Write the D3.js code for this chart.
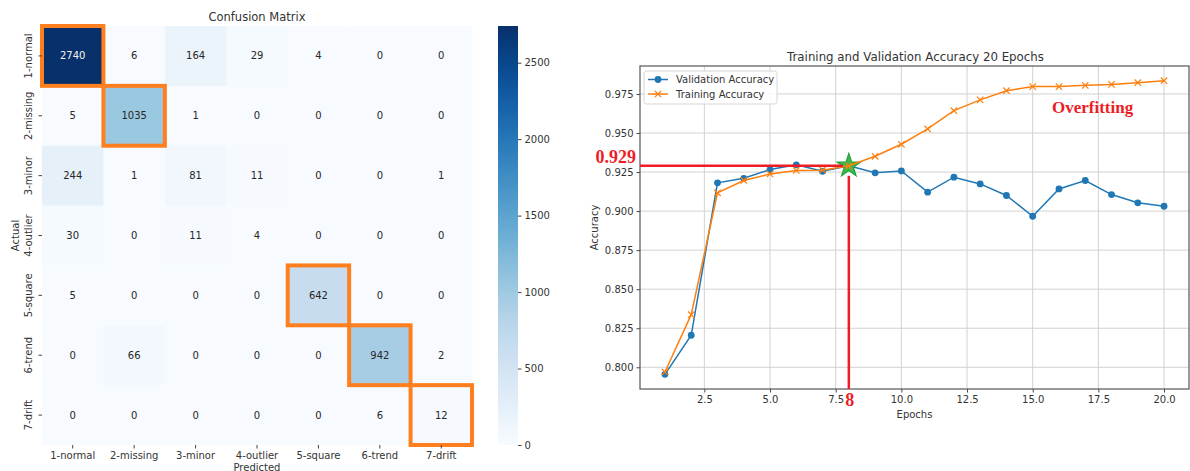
<!DOCTYPE html>
<html>
<head>
<meta charset="utf-8">
<script src="https://cdn.jsdelivr.net/npm/d3@7/dist/d3.min.js"></script>
<style>
  html, body { margin: 0; padding: 0; background: #fff; }
  svg { display: block; }
  text { font-family: "DejaVu Sans", sans-serif; fill: #333; }
</style>
</head>
<body>
<svg id="chart" width="1190" height="471"></svg>
<script>
// ---- Confusion matrix data ----
const classes = ["1-normal", "2-missing", "3-minor", "4-outlier", "5-square", "6-trend", "7-drift"];
const counts = [
  [2740, 6, 164, 29, 4, 0, 0],
  [5, 1035, 1, 0, 0, 0, 0],
  [244, 1, 81, 11, 0, 0, 1],
  [30, 0, 11, 4, 0, 0, 0],
  [5, 0, 0, 0, 642, 0, 0],
  [0, 66, 0, 0, 0, 942, 2],
  [0, 0, 0, 0, 0, 6, 12]
];
const highlighted = ["1-normal", "2-missing", "5-square", "6-trend", "7-drift"];
const colorbarTicks = [0, 500, 1000, 1500, 2000, 2500];

// ---- Accuracy curves ----
const epochs = [1, 2, 3, 4, 5, 6, 7, 8, 9, 10, 11, 12, 13, 14, 15, 16, 17, 18, 19, 20];
const valAcc = [0.7955, 0.8205, 0.9181, 0.9210, 0.9266, 0.9296, 0.9255, 0.929, 0.9245, 0.9257,
                0.9121, 0.9217, 0.9174, 0.9100, 0.8967, 0.9142, 0.9196, 0.9106, 0.9053, 0.9031];
const trainAcc = [0.797, 0.8337, 0.9117, 0.9196, 0.9238, 0.9260, 0.9262, 0.929, 0.9351, 0.9428,
                  0.9526, 0.9643, 0.9712, 0.9771, 0.9797, 0.9797, 0.9805, 0.9811, 0.9822, 0.9835];
const xTicks = [2.5, 5.0, 7.5, 10.0, 12.5, 15.0, 17.5, 20.0];
const yTicks = [0.800, 0.825, 0.850, 0.875, 0.900, 0.925, 0.950, 0.975];
const bestEpoch = 8;
const bestAcc = 0.929;

const svg = d3.select("#chart");

// =================== Heatmap ===================
const hm = { left: 42, right: 472, top: 26, bottom: 445 };
const xBand = d3.scaleBand().domain(classes).range([hm.left, hm.right]);
const yBand = d3.scaleBand().domain(classes).range([hm.top, hm.bottom]);
const vmax = d3.max(counts.flat());
const color = d3.scaleSequential(d3.interpolateBlues).domain([0, vmax]);

function luminance(c) {
  const rgb = d3.rgb(c);
  const f = v => { v /= 255; return v <= 0.03928 ? v / 12.92 : Math.pow((v + 0.055) / 1.055, 2.4); };
  return 0.2126 * f(rgb.r) + 0.7152 * f(rgb.g) + 0.0722 * f(rgb.b);
}

const cells = [];
counts.forEach((row, i) => row.forEach((v, j) => cells.push({ actual: classes[i], pred: classes[j], v })));

const gHm = svg.append("g");
gHm.selectAll("rect.cell").data(cells).join("rect")
  .attr("class", "cell")
  .attr("x", d => xBand(d.pred))
  .attr("y", d => yBand(d.actual))
  .attr("width", xBand.bandwidth() + 0.5)
  .attr("height", yBand.bandwidth() + 0.5)
  .attr("fill", d => color(d.v));

gHm.selectAll("text.val").data(cells).join("text")
  .attr("class", "val")
  .attr("x", d => xBand(d.pred) + xBand.bandwidth() / 2)
  .attr("y", d => yBand(d.actual) + yBand.bandwidth() / 2)
  .attr("dy", "0.35em")
  .attr("text-anchor", "middle")
  .style("font-size", "10px")
  .style("fill", d => luminance(color(d.v)) > 0.408 ? "#262626" : "#f4f4f4")
  .text(d => d.v);

// highlighted diagonal cells
gHm.selectAll("rect.hl").data(highlighted).join("rect")
  .attr("class", "hl")
  .attr("x", d => xBand(d))
  .attr("y", d => yBand(d))
  .attr("width", xBand.bandwidth())
  .attr("height", yBand.bandwidth())
  .attr("fill", "none")
  .attr("stroke", "#ff7f1e")
  .attr("stroke-width", 4);

// axes
const xAxisHm = d3.axisBottom(xBand).tickSize(3.5).tickPadding(3);
const gxh = svg.append("g").attr("transform", `translate(0,${hm.bottom})`).call(xAxisHm);
gxh.select(".domain").remove();
gxh.selectAll("line").attr("stroke", "#444");
gxh.selectAll("text").style("font-size", "10px").style("fill", "#333").attr("font-family", null);

const yAxisHm = d3.axisLeft(yBand).tickSize(3.5).tickPadding(3);
const gyh = svg.append("g").attr("transform", `translate(${hm.left},0)`).call(yAxisHm);
gyh.select(".domain").remove();
gyh.selectAll("line").attr("stroke", "#444");
gyh.selectAll("text")
  .style("font-size", "10px").style("fill", "#333").attr("font-family", null)
  .attr("text-anchor", "middle")
  .attr("x", null).attr("dy", null)
  .attr("transform", "translate(-10,0) rotate(-90)")
  .attr("y", 0);

svg.append("text").attr("x", (hm.left + hm.right) / 2).attr("y", 21)
  .attr("text-anchor", "middle").style("font-size", "11.5px").text("Confusion Matrix");
svg.append("text").attr("x", (hm.left + hm.right) / 2).attr("y", 470.5)
  .attr("text-anchor", "middle").style("font-size", "10px").text("Predicted");
svg.append("text")
  .attr("transform", `translate(19,${(hm.top + hm.bottom) / 2}) rotate(-90)`)
  .attr("text-anchor", "middle").style("font-size", "10px").text("Actual");

// colorbar
const cb = { x: 498, w: 20 };
const cbScale = d3.scaleLinear().domain([0, vmax]).range([hm.bottom, hm.top]);
const defs = svg.append("defs");
const grad = defs.append("linearGradient").attr("id", "cbGrad")
  .attr("x1", 0).attr("y1", 1).attr("x2", 0).attr("y2", 0);
d3.range(0, 1.0001, 0.05).forEach(t => {
  grad.append("stop").attr("offset", t).attr("stop-color", color(t * vmax));
});
svg.append("rect").attr("x", cb.x).attr("y", hm.top)
  .attr("width", cb.w).attr("height", hm.bottom - hm.top)
  .attr("fill", "url(#cbGrad)");
const gcb = svg.append("g").attr("transform", `translate(${cb.x + cb.w},0)`)
  .call(d3.axisRight(cbScale).tickValues(colorbarTicks).tickSize(3.5).tickPadding(3).tickFormat(d3.format("d")));
gcb.select(".domain").remove();
gcb.selectAll("line").attr("stroke", "#444");
gcb.selectAll("text").style("font-size", "10px").style("fill", "#333").attr("font-family", null);

// =================== Accuracy plot ===================
const ax = { left: 640, right: 1189, top: 66, bottom: 389 };
const allY = valAcc.concat(trainAcc);
const [xmin, xmax] = d3.extent(epochs);
const [ymin, ymax] = d3.extent(allY);
const xPad = (xmax - xmin) * 0.05, yPad = (ymax - ymin) * 0.05;
const x = d3.scaleLinear().domain([xmin - xPad, xmax + xPad]).range([ax.left, ax.right]);
const y = d3.scaleLinear().domain([ymin - yPad, ymax + yPad]).range([ax.bottom, ax.top]);

const gAcc = svg.append("g");
// grid
gAcc.selectAll("line.gx").data(xTicks).join("line")
  .attr("x1", d => x(d)).attr("x2", d => x(d))
  .attr("y1", ax.top).attr("y2", ax.bottom)
  .attr("stroke", "#d2d2d2").attr("stroke-width", 1);
gAcc.selectAll("line.gy").data(yTicks).join("line")
  .attr("x1", ax.left).attr("x2", ax.right)
  .attr("y1", d => y(d)).attr("y2", d => y(d))
  .attr("stroke", "#d2d2d2").attr("stroke-width", 1);

// axes
const gx = svg.append("g").attr("transform", `translate(0,${ax.bottom})`)
  .call(d3.axisBottom(x).tickValues(xTicks).tickFormat(d3.format(".1f")).tickSize(3.5).tickPadding(3));
gx.select(".domain").remove();
gx.selectAll("line").attr("stroke", "#444");
gx.selectAll("text").style("font-size", "10px").style("fill", "#333").attr("font-family", null);

const gy = svg.append("g").attr("transform", `translate(${ax.left},0)`)
  .call(d3.axisLeft(y).tickValues(yTicks).tickFormat(d3.format(".3f")).tickSize(3.5).tickPadding(3));
gy.select(".domain").remove();
gy.selectAll("line").attr("stroke", "#444");
gy.selectAll("text").style("font-size", "10px").style("fill", "#333").attr("font-family", null);

// frame
svg.append("rect").attr("x", ax.left).attr("y", ax.top)
  .attr("width", ax.right - ax.left).attr("height", ax.bottom - ax.top)
  .attr("fill", "none").attr("stroke", "#555").attr("stroke-width", 1.2);

const blue = "#1f77b4", orange = "#ff7f0e";
const line = d3.line().x(d => x(d[0])).y(d => y(d[1]));
const valPts = epochs.map((e, i) => [e, valAcc[i]]);
const trainPts = epochs.map((e, i) => [e, trainAcc[i]]);

// validation curve
gAcc.append("path").datum(valPts).attr("d", line)
  .attr("fill", "none").attr("stroke", blue).attr("stroke-width", 1.5);
gAcc.selectAll("circle.val").data(valPts).join("circle")
  .attr("cx", d => x(d[0])).attr("cy", d => y(d[1])).attr("r", 3.4).attr("fill", blue);

// best-epoch marker
gAcc.append("path")
  .attr("transform", `translate(${x(bestEpoch)},${y(bestAcc)})`)
  .attr("d", d3.symbol(d3.symbolStar, 170)())
  .attr("fill", "#3dbb4a").attr("stroke", "#24a03a").attr("stroke-width", 1.2);

// training curve
gAcc.append("path").datum(trainPts).attr("d", line)
  .attr("fill", "none").attr("stroke", orange).attr("stroke-width", 1.5);
const xm = 3.2;
gAcc.selectAll("path.tm").data(trainPts).join("path")
  .attr("class", "tm")
  .attr("d", d => `M${x(d[0]) - xm},${y(d[1]) - xm}L${x(d[0]) + xm},${y(d[1]) + xm}M${x(d[0]) - xm},${y(d[1]) + xm}L${x(d[0]) + xm},${y(d[1]) - xm}`)
  .attr("stroke", orange).attr("stroke-width", 1.2).attr("fill", "none");

// best-epoch guide lines
const red = "#ee1c25";
svg.append("line").attr("x1", ax.left).attr("x2", x(bestEpoch) - 6)
  .attr("y1", y(bestAcc)).attr("y2", y(bestAcc))
  .attr("stroke", red).attr("stroke-width", 2.5);
svg.append("line").attr("x1", x(bestEpoch)).attr("x2", x(bestEpoch))
  .attr("y1", y(bestAcc) + 10).attr("y2", ax.bottom)
  .attr("stroke", red).attr("stroke-width", 2.5);

svg.append("text").attr("x", ax.left - 4).attr("y", y(bestAcc) - 3)
  .attr("text-anchor", "end")
  .style("font-family", "'Liberation Serif', serif").style("font-weight", "bold")
  .style("font-size", "18px").style("fill", red)
  .text(d3.format(".3f")(bestAcc));
svg.append("text").attr("x", x(bestEpoch) + 1).attr("y", ax.bottom + 17)
  .attr("text-anchor", "middle")
  .style("font-family", "'Liberation Serif', serif").style("font-weight", "bold")
  .style("font-size", "18px").style("fill", red)
  .text(bestEpoch);
svg.append("text").attr("x", 1052).attr("y", 113)
  .style("font-family", "'Liberation Serif', serif").style("font-weight", "bold")
  .style("font-size", "17px").style("fill", red)
  .text("Overfitting");

// titles
svg.append("text").attr("x", (ax.left + ax.right) / 2 + 1).attr("y", 61)
  .attr("text-anchor", "middle").style("font-size", "11.8px")
  .text("Training and Validation Accuracy 20 Epochs");
svg.append("text").attr("x", (ax.left + ax.right) / 2).attr("y", 418)
  .attr("text-anchor", "middle").style("font-size", "10px").text("Epochs");
svg.append("text")
  .attr("transform", `translate(598,${(ax.top + ax.bottom) / 2}) rotate(-90)`)
  .attr("text-anchor", "middle").style("font-size", "10px").text("Accuracy");

// legend
const lg = svg.append("g").attr("transform", `translate(${ax.left + 4},${ax.top + 5})`);
lg.append("rect").attr("width", 133).attr("height", 33).attr("rx", 2.5)
  .attr("fill", "rgba(255,255,255,0.85)").attr("stroke", "#d6d6d6");
const legendItems = [
  { label: "Validation Accuracy", color: blue, marker: "circle" },
  { label: "Training Accuracy", color: orange, marker: "x" }
];
legendItems.forEach((it, i) => {
  const yy = 8.5 + i * 14.5;
  const g = lg.append("g").attr("transform", `translate(0,${yy})`);
  g.append("line").attr("x1", 4).attr("x2", 24).attr("stroke", it.color).attr("stroke-width", 1.5);
  if (it.marker === "circle") {
    g.append("circle").attr("cx", 14).attr("r", 3.4).attr("fill", it.color);
  } else {
    g.append("path").attr("d", `M${14 - xm},${-xm}L${14 + xm},${xm}M${14 - xm},${xm}L${14 + xm},${-xm}`)
      .attr("stroke", it.color).attr("stroke-width", 1.2);
  }
  g.append("text").attr("x", 32).attr("dy", "0.35em").style("font-size", "10px").text(it.label);
});
</script>
</body>
</html>
